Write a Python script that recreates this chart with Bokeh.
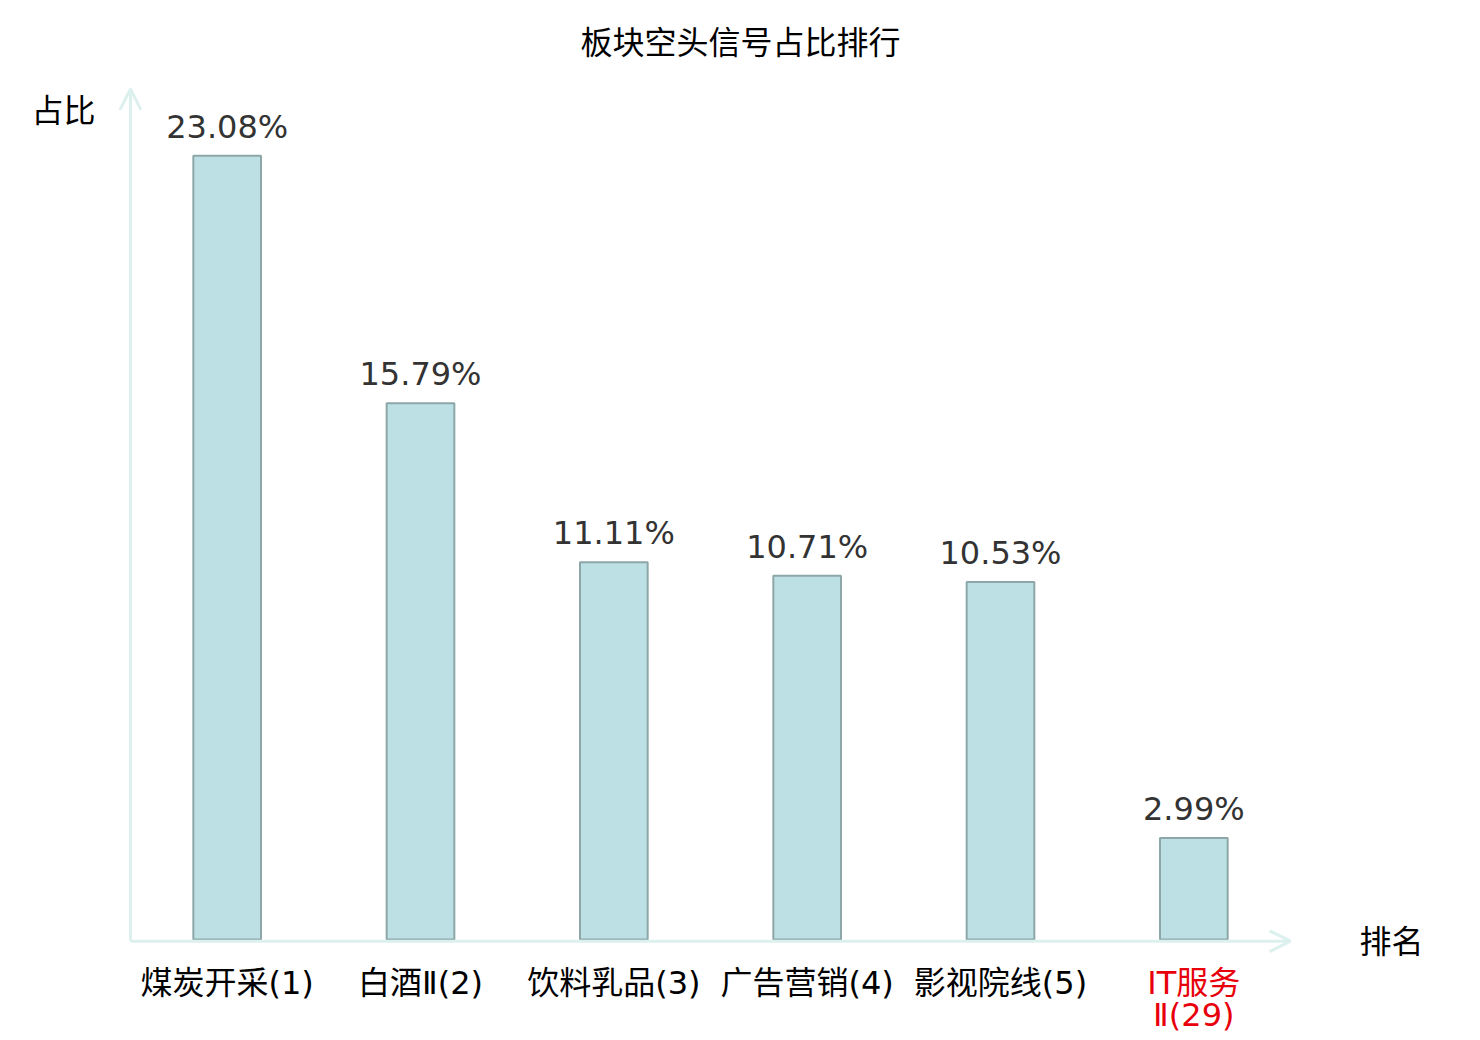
from bokeh.plotting import figure
from bokeh.models import Range1d, ColumnDataSource, Label, Arrow, OpenHead
from bokeh.core.properties import value
from bokeh.embed import file_html
from bokeh.resources import INLINE

# data
categories = ["煤炭开采(1)", "白酒Ⅱ(2)", "饮料乳品(3)", "广告营销(4)", "影视院线(5)", "IT服务\nⅡ(29)"]
values = [23.08, 15.79, 11.11, 10.71, 10.53, 2.99]
value_labels = ["23.08%", "15.79%", "11.11%", "10.71%", "10.53%", "2.99%"]
label_colors = ["#000000", "#000000", "#000000", "#000000", "#000000", "#e8000b"]
title_text = "板块空头信号占比排行"
y_label = "占比"
x_label = "排名"

CJK = "Noto Sans CJK SC"
MIXED = "DejaVu Sans ExtraLight, DejaVu Sans, Noto Sans CJK SC"
AXIS_COLOR = "#dcf0ee"

W, H = 1480, 1040
# plot area geometry (pixels): x axis origin at 130, y origin at 939, y=25 at 90
X0, SLOT = 130.0, 193.333
Y0, YPX = 939.0, (939.0 - 90.0) / 25.0

p = figure(width=W, height=H,
           x_range=Range1d(-X0 / SLOT, (W - X0) / SLOT),
           y_range=Range1d(-(H - Y0) / YPX, Y0 / YPX),
           output_backend="svg", toolbar_location=None,
           min_border=0, min_border_left=0, min_border_right=0, min_border_top=0, min_border_bottom=0)
p.axis.visible = False
p.grid.visible = False
p.outline_line_color = None
p.background_fill_color = "white"

pos = [i + 0.5 for i in range(len(categories))]
src = ColumnDataSource(dict(x=pos, top=values, lab=value_labels, col=label_colors, cat=categories,
                            zero=[0] * len(values)))

p.vbar(x="x", top="top", width=0.35, source=src, fill_color="#bce0e3", line_color="#8da7a9",
       line_width=2)

# axes as arrows
n = len(categories)
p.add_layout(Arrow(x_start=0, y_start=-0.05, x_end=n, y_end=-0.05, line_color=AXIS_COLOR, line_width=3,
                   end=OpenHead(size=21, line_color=AXIS_COLOR, line_width=3)))
p.add_layout(Arrow(x_start=0, y_start=-0.05, x_end=0, y_end=25.05, line_color=AXIS_COLOR, line_width=3,
                   end=OpenHead(size=21, line_color=AXIS_COLOR, line_width=3)))

p.text(x="x", y="top", text="lab", source=src, y_offset=-29, text_align="center",
       text_baseline="alphabetic", text_font=value("DejaVu Sans"), text_font_size="32px",
       text_color="#333333")

p.text(x="x", y="zero", text="cat", source=src, y_offset=24, text_align="center",
       text_baseline="top", text_font=value(MIXED), text_font_size="32px",
       text_color="col", text_line_height=0.85)

p.add_layout(Label(x=(740 - X0) / SLOT, y=(Y0 - 39) / YPX, text=title_text, text_align="center",
                   text_baseline="middle", text_font=CJK, text_font_size="32px", text_color="#000000"))
p.add_layout(Label(x=(63 - X0) / SLOT, y=(Y0 - 107) / YPX, text=y_label, text_align="center",
                   text_baseline="middle", text_font=CJK, text_font_size="32px", text_color="#000000"))
p.add_layout(Label(x=(1391 - X0) / SLOT, y=(Y0 - 938) / YPX, text=x_label, text_align="center",
                   text_baseline="middle", text_font=CJK, text_font_size="32px", text_color="#000000"))

open("out.html", "w").write(file_html(p, INLINE))
